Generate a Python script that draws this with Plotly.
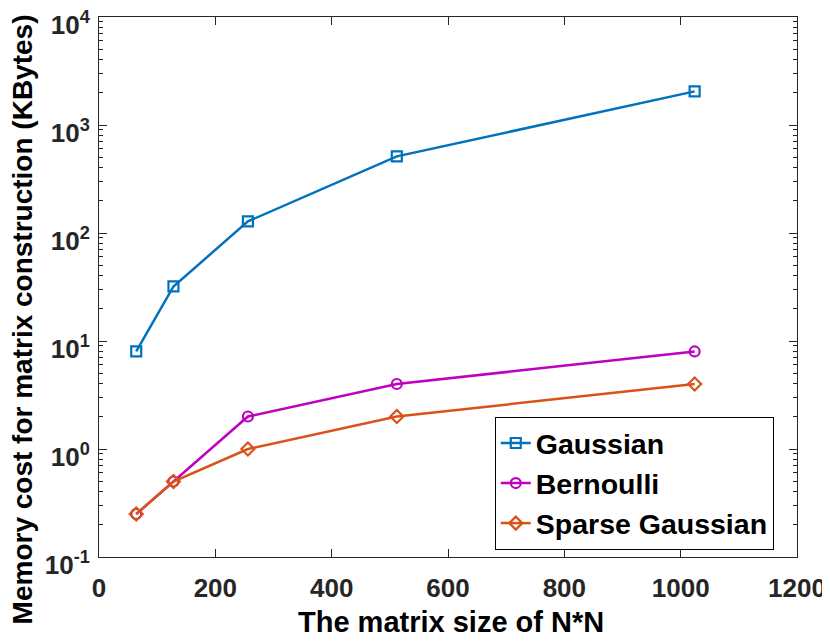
import plotly.graph_objects as go

# matrix size N and memory cost (KBytes)
sizes = [64, 128, 256, 512, 1024]
gaussian = [8, 32, 128, 512, 2048]
bernoulli = [0.25, 0.5, 2, 4, 8]
sparse_gaussian = [0.25, 0.5, 1, 2, 4]

y_ticks = [0.1, 1, 10, 100, 1000, 10000]
y_labels = ["10<sup>-1</sup>", "10<sup>0</sup>", "10<sup>1</sup>",
            "10<sup>2</sup>", "10<sup>3</sup>", "10<sup>4</sup>"]
x_ticks = [0, 200, 400, 600, 800, 1000, 1200]

font = "Liberation Sans, Arial, sans-serif"

fig = go.Figure()
series = [
    ("Gaussian", gaussian, "#0072BD", "square-open"),
    ("Bernoulli", bernoulli, "#C000C0", "circle-open"),
    ("Sparse Gaussian", sparse_gaussian, "#D95319", "diamond-open"),
]
for name, vals, col, sym in series:
    fig.add_trace(go.Scatter(
        x=sizes, y=vals, name=name, mode="lines+markers",
        line=dict(color=col, width=2.5),
        marker=dict(symbol=sym, size=10, color=col, line=dict(width=2.2, color=col)),
    ))

axis_common = dict(
    showline=True, linecolor="#262626", linewidth=1, mirror="ticks",
    ticks="inside", tickcolor="#262626", showgrid=False, zeroline=False,
    automargin=False, ticklabeloverflow="allow",
    tickfont=dict(family=font, size=26, color="#262626", weight="bold"),
)

fig.update_xaxes(range=[0, 1200], tickvals=x_ticks, ticklen=8,
                 ticklabelstandoff=8, **axis_common)
fig.update_yaxes(
    type="log", range=[-1, 4], tickvals=y_ticks, ticktext=y_labels, ticklen=8,
    ticklabelshift=8, ticklabelstandoff=3,
    minor=dict(ticks="inside", ticklen=4, tickcolor="#262626", dtick="D1", showgrid=False),
    **axis_common,
)

title_font = dict(family=font, size=29, color="black", weight="bold")
y_title_font = dict(family=font, size=28, color="black", weight="bold")
fig.add_annotation(text="The matrix size of N*N", xref="paper", yref="paper",
                   x=0.504, y=-0.1204, showarrow=False, font=title_font,
                   xanchor="center", yanchor="middle")
fig.add_annotation(text="Memory cost for matrix construction (KBytes)",
                   xref="paper", yref="paper", x=-0.1103, y=0.44,
                   showarrow=False, font=y_title_font, textangle=-90,
                   xanchor="center", yanchor="middle")

# page has an 8px body margin, so the figure is 8px smaller than the window
fig.update_layout(
    width=822, height=633,
    margin=dict(l=91, r=33, t=9, b=84),
    paper_bgcolor="white", plot_bgcolor="white",
    font=dict(family=font, color="#262626"),
    showlegend=True,
    legend=dict(
        x=0.567, y=0.013, xanchor="left", yanchor="bottom",
        bordercolor="black", borderwidth=1, bgcolor="white",
        font=dict(family=font, size=28.5, color="black", weight="bold"),
        itemwidth=30, tracegroupgap=0,
    ),
)

fig.write_html("out.html")
